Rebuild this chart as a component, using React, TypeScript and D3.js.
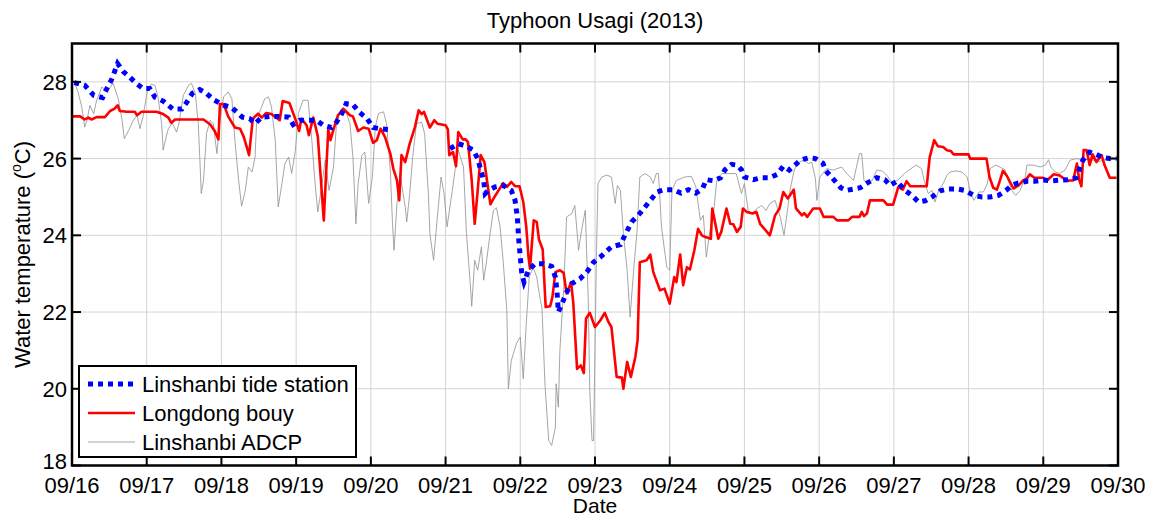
import * as d3 from 'd3';

// days after 09/16 00:00, water temperature (°C)
const dayLabels = ['09/16','09/17','09/18','09/19','09/20','09/21','09/22','09/23','09/24','09/25','09/26','09/27','09/28','09/29','09/30'];
const tempTicks = [18, 20, 22, 24, 26, 28];

const tideStation: [number, number][] = [
  [0.03,27.98],[0.17,27.91],[0.29,27.65],[0.41,27.59],[0.46,27.8],[0.53,28.06],[0.61,28.48],[0.69,28.26],[0.77,28.13],[0.86,27.96],
  [0.95,27.83],[1.04,27.83],[1.11,27.6],[1.22,27.5],[1.35,27.29],[1.47,27.29],[1.53,27.45],[1.61,27.7],[1.71,27.8],[1.8,27.7],
  [1.89,27.54],[2.03,27.39],[2.14,27.33],[2.28,27.08],[2.38,27.04],[2.45,26.91],[2.54,27.08],[2.65,27.1],[2.76,27.1],[2.9,27.08],
  [2.96,26.89],[3.05,27.0],[3.16,27.0],[3.27,27.0],[3.36,26.87],[3.47,26.81],[3.54,26.95],[3.61,27.17],[3.67,27.43],[3.76,27.41],
  [3.84,27.22],[3.95,27.04],[4.03,26.81],[4.12,26.78],[4.23,26.76],[4.6,NaN],
  [5.06,26.26],[5.17,26.39],[5.28,26.32],[5.37,26.22],[5.43,26.0],[5.46,25.78],[5.51,25.43],[5.53,25.09],[5.57,25.17],[5.66,25.26],
  [5.77,25.3],[5.88,25.17],[5.93,24.91],[5.96,24.48],[5.98,23.87],[6.0,23.43],[6.02,23.0],[6.05,22.78],[6.11,23.09],[6.2,23.26],
  [6.31,23.26],[6.42,23.19],[6.47,22.91],[6.49,22.57],[6.51,22.0],[6.56,22.22],[6.61,22.48],[6.69,22.74],[6.8,22.87],[6.89,23.04],
  [6.98,23.3],[7.07,23.43],[7.22,23.7],[7.34,23.76],[7.4,24.0],[7.49,24.35],[7.6,24.57],[7.74,24.91],[7.83,25.13],[7.92,25.19],
  [8.05,25.19],[8.15,25.1],[8.25,25.19],[8.35,25.1],[8.44,25.22],[8.49,25.45],[8.59,25.42],[8.68,25.5],[8.74,25.71],[8.83,25.85],
  [8.9,25.83],[8.96,25.71],[9.0,25.52],[9.12,25.45],[9.22,25.5],[9.34,25.5],[9.44,25.59],[9.52,25.8],[9.6,25.7],[9.75,25.96],
  [9.86,26.02],[9.95,26.0],[10.05,25.88],[10.09,25.68],[10.21,25.42],[10.29,25.24],[10.36,25.17],[10.55,25.24],[10.64,25.36],[10.77,25.5],
  [10.88,25.45],[10.95,25.3],[11.04,25.41],[11.15,25.17],[11.24,25.04],[11.33,24.87],[11.42,24.9],[11.51,25.0],[11.62,25.16],[11.73,25.21],
  [11.84,25.21],[11.95,25.17],[12.07,25.04],[12.18,25.0],[12.29,25.0],[12.4,25.04],[12.5,25.17],[12.58,25.3],[12.64,25.35],[12.78,25.41],
  [12.89,25.41],[13.0,25.44],[13.11,25.42],[13.22,25.44],[13.33,25.45],[13.44,25.5],[13.53,25.96],[13.62,26.17],[13.71,26.11],[13.79,26.03],
  [13.89,26.0],[13.98,26.0],
];

const longdongBuoy: [number, number][] = [
  [0.0,27.1],[0.11,27.1],[0.17,27.02],[0.22,27.07],[0.26,27.02],[0.33,27.08],[0.44,27.08],[0.51,27.24],[0.57,27.3],[0.61,27.39],
  [0.64,27.24],[0.73,27.22],[0.84,27.22],[0.87,27.13],[0.93,27.22],[1.13,27.22],[1.22,27.16],[1.29,27.07],[1.33,26.93],[1.38,27.02],
  [1.76,27.02],[1.85,26.89],[1.91,26.72],[1.96,26.5],[1.98,27.42],[2.03,27.42],[2.09,27.1],[2.18,26.81],[2.25,26.78],[2.3,26.56],
  [2.37,26.09],[2.42,27.04],[2.49,27.17],[2.54,27.07],[2.6,27.19],[2.67,27.16],[2.78,27.0],[2.82,27.5],[2.91,27.45],[2.98,27.08],
  [3.04,26.72],[3.07,27.04],[3.14,26.87],[3.17,26.61],[3.23,27.07],[3.29,26.58],[3.37,24.39],[3.43,26.76],[3.46,26.48],[3.5,26.76],
  [3.56,27.13],[3.63,27.3],[3.72,27.13],[3.76,27.1],[3.83,26.72],[3.9,26.81],[3.97,26.78],[4.03,26.41],[4.08,26.48],[4.13,26.78],
  [4.19,26.56],[4.26,26.13],[4.3,25.74],[4.35,25.43],[4.38,24.91],[4.41,26.09],[4.46,25.91],[4.52,26.39],[4.59,26.82],[4.64,27.26],
  [4.68,27.16],[4.71,27.22],[4.79,26.81],[4.85,27.0],[4.89,26.91],[5.0,26.87],[5.03,26.76],[5.05,26.09],[5.1,26.17],[5.14,25.8],
  [5.17,26.69],[5.23,26.5],[5.27,26.5],[5.3,26.43],[5.35,25.43],[5.39,24.3],[5.43,25.17],[5.47,26.09],[5.52,25.91],[5.56,25.35],
  [5.6,24.81],[5.66,25.02],[5.77,25.36],[5.82,25.26],[5.88,25.39],[5.93,25.28],[5.99,25.28],[6.04,24.87],[6.08,24.22],[6.11,23.43],
  [6.13,23.13],[6.18,24.39],[6.22,24.35],[6.25,23.89],[6.3,23.63],[6.34,22.13],[6.4,22.15],[6.43,22.39],[6.47,23.04],[6.53,23.09],
  [6.58,23.02],[6.62,22.48],[6.68,22.78],[6.71,22.22],[6.76,20.52],[6.81,20.61],[6.85,20.41],[6.88,21.83],[6.93,21.98],[7.0,21.61],
  [7.07,21.78],[7.13,21.98],[7.18,21.74],[7.22,21.61],[7.29,20.31],[7.36,20.29],[7.38,20.0],[7.43,20.7],[7.48,20.31],[7.54,20.83],
  [7.57,21.26],[7.6,23.3],[7.69,23.35],[7.74,23.5],[7.78,23.04],[7.87,22.57],[7.93,22.61],[8.0,22.22],[8.06,22.91],[8.09,22.78],
  [8.14,23.5],[8.18,22.7],[8.23,23.17],[8.27,23.11],[8.33,23.61],[8.38,24.17],[8.43,24.0],[8.47,23.96],[8.55,23.91],[8.57,24.7],
  [8.65,23.91],[8.69,24.09],[8.76,24.7],[8.81,24.3],[8.85,24.29],[8.9,24.09],[8.95,24.22],[8.98,24.7],[9.03,24.61],[9.11,24.57],
  [9.16,24.61],[9.21,24.3],[9.34,24.0],[9.41,24.52],[9.47,24.7],[9.52,25.13],[9.58,24.96],[9.66,25.19],[9.69,24.7],[9.77,24.52],
  [9.8,24.58],[9.84,24.48],[9.92,24.7],[10.01,24.7],[10.06,24.48],[10.19,24.48],[10.24,24.39],[10.39,24.39],[10.44,24.48],[10.54,24.48],
  [10.57,24.61],[10.6,24.5],[10.64,24.57],[10.68,24.91],[10.86,24.91],[10.91,24.8],[10.99,24.8],[11.06,25.26],[11.12,25.19],[11.17,25.41],
  [11.22,25.28],[11.44,25.28],[11.48,26.04],[11.54,26.48],[11.59,26.32],[11.66,26.3],[11.71,26.22],[11.76,26.2],[11.8,26.11],[12.0,26.11],
  [12.02,26.0],[12.24,26.0],[12.28,25.52],[12.33,25.24],[12.38,25.19],[12.42,25.43],[12.46,25.68],[12.51,25.56],[12.6,25.22],[12.67,25.3],
  [12.73,25.43],[12.78,25.48],[12.82,25.59],[12.88,25.5],[13.0,25.5],[13.05,25.43],[13.14,25.59],[13.22,25.56],[13.31,25.43],[13.4,25.43],
  [13.45,25.87],[13.48,25.45],[13.51,25.28],[13.54,26.22],[13.58,26.22],[13.62,25.83],[13.66,26.11],[13.71,25.91],[13.78,26.09],[13.82,25.83],
  [13.89,25.5],[13.98,25.5],
];

const linshanbiAdcp: [number, number][] = [
  [0.04,27.96],[0.08,27.74],[0.13,27.35],[0.17,26.82],[0.2,27.0],[0.24,27.39],[0.29,27.17],[0.33,27.52],[0.4,27.87],[0.44,27.78],
  [0.48,27.78],[0.55,27.96],[0.62,27.56],[0.67,27.0],[0.7,26.52],[0.76,26.74],[0.82,27.0],[0.87,27.13],[0.91,26.78],[0.95,27.09],
  [1.01,27.78],[1.06,27.94],[1.11,27.91],[1.15,27.61],[1.2,26.91],[1.22,26.22],[1.26,26.56],[1.29,26.78],[1.34,26.93],[1.4,26.69],
  [1.43,26.91],[1.49,27.65],[1.56,27.91],[1.6,27.96],[1.65,27.7],[1.69,26.91],[1.71,26.04],[1.73,25.09],[1.76,25.43],[1.8,26.65],
  [1.85,27.0],[1.89,26.91],[1.94,26.13],[1.98,27.0],[2.03,27.61],[2.09,27.74],[2.14,27.56],[2.18,26.48],[2.23,25.43],[2.27,24.76],
  [2.32,25.17],[2.36,25.78],[2.41,25.65],[2.45,26.04],[2.47,26.91],[2.52,27.26],[2.58,27.56],[2.63,27.61],[2.67,27.35],[2.72,26.48],
  [2.76,24.74],[2.81,25.35],[2.85,25.87],[2.9,26.04],[2.94,25.61],[2.99,26.22],[3.03,27.17],[3.09,27.52],[3.16,27.52],[3.21,26.48],
  [3.25,25.43],[3.29,24.61],[3.34,25.26],[3.39,25.96],[3.44,25.17],[3.5,25.78],[3.54,26.91],[3.59,27.22],[3.66,27.26],[3.72,26.91],
  [3.76,26.04],[3.8,24.3],[3.83,25.35],[3.88,26.09],[3.92,26.17],[3.97,24.83],[4.02,25.52],[4.06,26.82],[4.1,27.17],[4.17,27.22],
  [4.21,26.91],[4.26,25.7],[4.29,24.3],[4.31,23.61],[4.35,24.83],[4.39,25.61],[4.46,24.74],[4.48,24.35],[4.52,25.09],[4.56,26.04],
  [4.61,26.91],[4.68,26.95],[4.72,26.65],[4.77,25.09],[4.79,24.04],[4.84,23.35],[4.89,24.48],[4.94,25.52],[4.98,25.09],[5.02,24.22],
  [5.09,25.17],[5.13,25.74],[5.17,26.22],[5.24,25.78],[5.28,24.04],[5.33,22.74],[5.35,22.15],[5.39,23.35],[5.43,23.09],[5.48,23.7],
  [5.51,22.83],[5.55,23.35],[5.59,23.96],[5.64,24.65],[5.68,24.72],[5.73,24.22],[5.77,23.35],[5.82,22.04],[5.84,20.0],[5.88,20.74],
  [5.95,21.19],[6.0,21.35],[6.04,20.26],[6.08,21.7],[6.12,22.91],[6.17,23.17],[6.22,22.91],[6.27,22.3],[6.29,22.13],[6.33,20.13],
  [6.38,18.65],[6.42,18.52],[6.47,19.0],[6.48,20.13],[6.51,19.52],[6.53,21.0],[6.58,22.57],[6.62,24.48],[6.69,24.57],[6.73,24.78],
  [6.78,23.61],[6.82,24.13],[6.87,24.65],[6.91,22.3],[6.93,19.96],[6.96,18.65],[6.98,18.65],[7.0,21.0],[7.02,23.61],[7.04,25.35],
  [7.09,25.52],[7.16,25.57],[7.22,25.52],[7.27,24.83],[7.3,25.3],[7.34,25.17],[7.38,24.04],[7.43,23.09],[7.47,21.87],[7.52,23.17],
  [7.56,24.04],[7.6,25.52],[7.67,25.61],[7.74,25.52],[7.78,25.35],[7.82,25.61],[7.85,25.61],[7.89,24.22],[7.96,23.17],[8.0,23.09],
  [8.03,25.17],[8.09,25.43],[8.2,25.52],[8.29,25.54],[8.35,25.26],[8.41,24.39],[8.45,24.52],[8.49,23.43],[8.54,24.13],[8.59,24.65],
  [8.63,25.43],[8.7,25.61],[8.79,25.61],[8.89,25.61],[8.96,25.09],[9.0,25.35],[9.05,24.65],[9.1,24.57],[9.17,24.7],[9.23,24.78],
  [9.29,24.65],[9.34,24.83],[9.41,24.91],[9.48,24.48],[9.53,24.0],[9.57,24.57],[9.61,25.17],[9.66,25.65],[9.7,25.87],[9.79,25.96],
  [9.86,25.87],[9.9,25.91],[9.95,25.48],[9.97,24.91],[10.01,25.52],[10.1,25.74],[10.19,25.7],[10.3,25.78],[10.37,25.61],[10.46,25.43],
  [10.51,25.87],[10.54,26.13],[10.57,26.13],[10.6,25.43],[10.64,25.39],[10.71,25.43],[10.77,25.7],[10.84,25.68],[10.91,25.56],[10.97,25.39],
  [11.05,25.43],[11.14,25.61],[11.23,25.74],[11.3,25.83],[11.37,25.74],[11.41,25.39],[11.46,25.09],[11.51,25.17],[11.55,24.87],[11.6,25.17],
  [11.66,25.35],[11.71,25.56],[11.75,25.65],[11.84,25.68],[11.91,25.65],[11.98,25.52],[12.02,25.17],[12.07,24.91],[12.14,25.13],[12.2,25.13],
  [12.25,25.35],[12.29,25.74],[12.36,25.83],[12.42,25.78],[12.49,25.7],[12.53,25.43],[12.58,25.17],[12.63,25.04],[12.69,25.17],[12.76,25.52],
  [12.78,25.83],[12.87,25.83],[12.96,25.78],[13.03,25.83],[13.07,25.97],[13.1,25.78],[13.16,25.65],[13.22,25.61],[13.29,25.7],[13.36,25.96],
  [13.45,26.0],[13.54,25.96],[13.63,26.0],[13.72,25.91],[13.81,25.96],[13.9,26.04],[13.98,26.0],
];

const W = 1151, H = 517;
const left = 72, right = 1118, top = 43.5, bottom = 465.5;
const font = 'Liberation Sans, Arial, sans-serif';
const fs = 22;

export default function App() {
  const x = d3.scaleLinear().domain([0, 14]).range([left, right]);
  const y = d3.scaleLinear().domain([18, 29]).range([bottom, top]);
  const line = d3.line<[number, number]>()
    .defined(d => !isNaN(d[1]))
    .x(d => x(d[0])).y(d => y(d[1]));
  const days = d3.range(0, 15);
  const tk = 9;

  return (
    <svg width={W} height={H} style={{ position: 'absolute', left: 0, top: 0, background: '#fff' }} fontFamily={font}>
      <rect x={0} y={0} width={W} height={H} fill="#fff" />
      {/* grid */}
      {days.map(d => (
        <line key={'gx' + d} x1={x(d)} x2={x(d)} y1={top} y2={bottom} stroke="#d4d4d4" strokeWidth={1} />
      ))}
      {tempTicks.map(t => (
        <line key={'gy' + t} x1={left} x2={right} y1={y(t)} y2={y(t)} stroke="#d4d4d4" strokeWidth={1} />
      ))}
      {/* series */}
      <path d={line(linshanbiAdcp) || ''} fill="none" stroke="#8f8f8f" strokeWidth={0.8} />
      <path d={line(longdongBuoy) || ''} fill="none" stroke="#ff0000" strokeWidth={2.6} strokeLinejoin="round" />
      <path d={line(tideStation) || ''} fill="none" stroke="#0000ff" strokeWidth={5} strokeDasharray="5 5" />
      {/* ticks */}
      {days.map(d => (
        <g key={'tx' + d}>
          <line x1={x(d)} x2={x(d)} y1={bottom} y2={bottom - tk} stroke="#000" strokeWidth={2} />
          <line x1={x(d)} x2={x(d)} y1={top} y2={top + tk} stroke="#000" strokeWidth={2} />
          <text x={x(d)} y={bottom + 27} textAnchor="middle" fontSize={fs}>{dayLabels[d]}</text>
        </g>
      ))}
      {tempTicks.map(t => (
        <g key={'ty' + t}>
          <line x1={left} x2={left + tk} y1={y(t)} y2={y(t)} stroke="#000" strokeWidth={2} />
          <line x1={right} x2={right - tk} y1={y(t)} y2={y(t)} stroke="#000" strokeWidth={2} />
          <text x={left - 5} y={y(t) + (t === 18 ? 3 : 8)} textAnchor="end" fontSize={fs}>{t}</text>
        </g>
      ))}
      <rect x={left} y={top} width={right - left} height={bottom - top} fill="none" stroke="#000" strokeWidth={2.5} />
      {/* labels */}
      <text x={(left + right) / 2} y={28} textAnchor="middle" fontSize={fs}>Typhoon Usagi (2013)</text>
      <text x={(left + right) / 2} y={513} textAnchor="middle" fontSize={21}>Date</text>
      <text transform={`translate(30,${(top + bottom) / 2}) rotate(-90)`} textAnchor="middle" fontSize={fs}>
        Water temperature (<tspan fontSize={14} dy={-9}>o</tspan><tspan dy={9}>C)</tspan>
      </text>
      {/* legend */}
      <g>
        <rect x={79} y={366} width={277} height={91} fill="#fff" stroke="#000" strokeWidth={2} />
        <line x1={88} x2={135} y1={384} y2={384} stroke="#0000ff" strokeWidth={5} strokeDasharray="5 5" />
        <text x={142} y={384} dy="0.36em" fontSize={fs}>Linshanbi tide station</text>
        <line x1={88} x2={135} y1={413} y2={413} stroke="#ff0000" strokeWidth={2.6} />
        <text x={142} y={413} dy="0.36em" fontSize={fs}>Longdong bouy</text>
        <line x1={88} x2={135} y1={442} y2={442} stroke="#8f8f8f" strokeWidth={0.8} />
        <text x={142} y={442} dy="0.36em" fontSize={fs}>Linshanbi ADCP</text>
      </g>
    </svg>
  );
}
